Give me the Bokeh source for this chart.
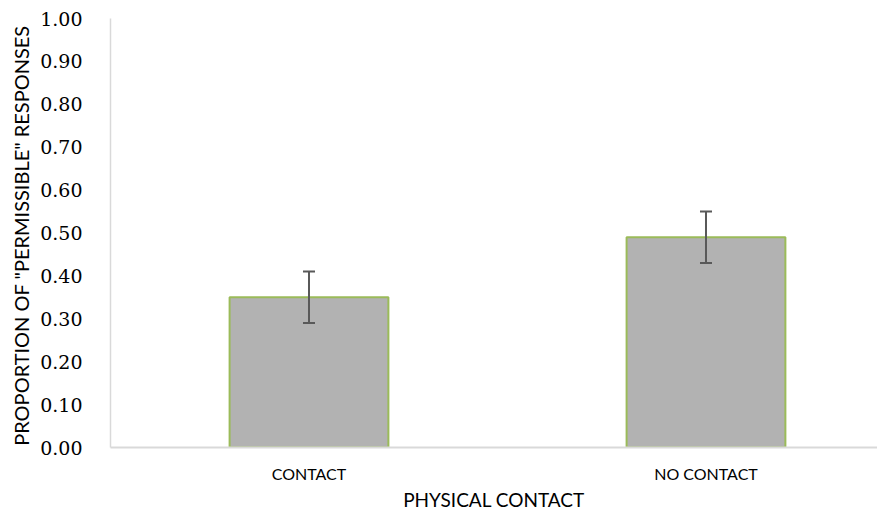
from bokeh.plotting import figure
from bokeh.models import Range1d, ColumnDataSource, Whisker, FixedTicker, TeeHead, PrintfTickFormatter
from bokeh.embed import file_html
from bokeh.resources import INLINE

categories = ["CONTACT", "NO CONTACT"]
proportions = [0.35, 0.49]
err_lower = [0.29, 0.43]
err_upper = [0.41, 0.55]
y_ticks = [0.0, 0.1, 0.2, 0.3, 0.4, 0.5, 0.6, 0.7, 0.8, 0.9, 1.0]

xpos = list(range(len(categories)))
src = ColumnDataSource(dict(x=xpos, top=proportions, lower=err_lower, upper=err_upper))

p = figure(width=877, height=513, output_backend="svg", toolbar_location=None,
           x_range=Range1d(-0.5, 1.432), y_range=Range1d(0, 1.0),
           min_border_left=110, min_border_right=0, min_border_top=18, min_border_bottom=0)
p.outline_line_color = None
p.grid.visible = False
p.background_fill_color = "white"

p.vbar(x="x", top="top", width=0.4, bottom=0, source=src,
       fill_color="#b2b2b2", line_color="#9bbb59", line_width=2)

w = Whisker(base="x", lower="lower", upper="upper", source=src,
            line_color="#595959", line_width=2, level="overlay",
            upper_head=TeeHead(size=12, line_color="#595959", line_width=2),
            lower_head=TeeHead(size=12, line_color="#595959", line_width=2))
p.add_layout(w)

# y axis
p.yaxis.ticker = FixedTicker(ticks=y_ticks)
p.yaxis.formatter = PrintfTickFormatter(format="%.2f")
p.yaxis.major_tick_line_color = None
p.yaxis.minor_tick_line_color = None
p.yaxis.axis_line_color = "#d9d9d9"
p.yaxis.axis_line_width = 1.5
p.yaxis.major_label_text_font = "DejaVu Serif"
p.yaxis.major_label_text_font_size = "19px"
p.yaxis.major_label_text_color = "#000000"
p.yaxis.major_label_standoff = 22
p.yaxis.axis_label = 'PROPORTION OF  "PERMISSIBLE" RESPONSES'
p.yaxis.axis_label_text_font = "Lato"
p.yaxis.axis_label_text_font_style = "normal"
p.yaxis.axis_label_text_font_size = "20px"
p.yaxis.axis_label_text_color = "#000000"
p.yaxis.axis_label_standoff = 4

# x axis
p.xaxis.ticker = FixedTicker(ticks=xpos)
p.xaxis.major_label_overrides = {i: c for i, c in zip(xpos, categories)}
p.xaxis.major_tick_line_color = None
p.xaxis.minor_tick_line_color = None
p.xaxis.axis_line_color = "#d9d9d9"
p.xaxis.axis_line_width = 2
p.xaxis.major_label_text_font = "Lato"
p.xaxis.major_label_text_font_size = "16px"
p.xaxis.major_label_text_color = "#000000"
p.xaxis.major_label_standoff = 10
p.xaxis.axis_label = "PHYSICAL CONTACT"
p.xaxis.axis_label_text_font = "Lato"
p.xaxis.axis_label_text_font_style = "normal"
p.xaxis.axis_label_text_font_size = "19px"
p.xaxis.axis_label_text_color = "#000000"
p.xaxis.axis_label_standoff = 2

open("out.html", "w").write(file_html(p, INLINE))
